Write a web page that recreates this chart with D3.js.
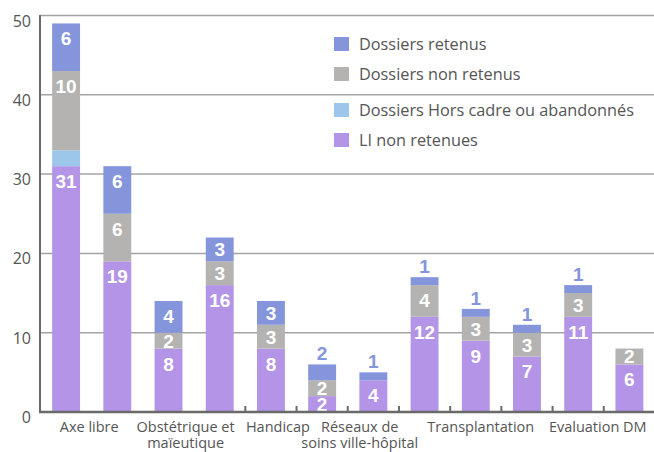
<!DOCTYPE html>
<html>
<head>
<meta charset="utf-8">
<script src="https://cdn.jsdelivr.net/npm/d3@7"></script>
<style>
  body { margin: 0; background: #fff; }
  svg { display: block; }
  .tick-y { font-family: "Open Sans", sans-serif; font-size: 16px; fill: #555; }
  .lab-x { font-family: "Open Sans", sans-serif; font-size: 14.5px; fill: #555; }
  .leg { font-family: "Open Sans", sans-serif; font-size: 16.3px; fill: #555; }
  .val { font-family: "Liberation Sans", Arial, sans-serif; font-size: 19px; font-weight: bold; }
</style>
</head>
<body>
<div id="chart"></div>
<script>
// une barre par ligne de donnees, du bas vers le haut
var bars = ["b1","b2","b3","b4","b5","b6","b7","b8","b9","b10","b11","b12"];
var liNonRetenues   = [31, 19, 8, 16, 8, 2, 4, 12, 9, 7, 12, 6];
var liTexte         = [31, 19, 8, 16, 8, 2, 4, 12, 9, 7, 11, 6]; // valeur imprimee
var horsCadre       = [2, 0, 0, 0, 0, 0, 0, 0, 0, 0, 0, 0];
var nonRetenus      = [10, 6, 2, 3, 3, 2, 0, 4, 3, 3, 3, 2];
var retenus         = [6, 6, 4, 3, 3, 2, 1, 1, 1, 1, 1, 0];
var seriesNames = ["LI non retenues", "Dossiers Hors cadre ou abandonnés", "Dossiers non retenus", "Dossiers retenus"];
var yTicks = [0, 10, 20, 30, 40, 50];
// groupes d'etiquettes de l'axe X : premiere et derniere barre
var groupes = [
  {nom: ["Axe libre"], de: 0, a: 1},
  {nom: ["Obstétrique et", "maïeutique"], de: 2, a: 3},
  {nom: ["Handicap"], de: 4, a: 4},
  {nom: ["Réseaux de", "soins ville-hôpital"], de: 5, a: 6},
  {nom: ["Transplantation"], de: 7, a: 9},
  {nom: ["Evaluation DM"], de: 10, a: 11}
];

var couleurs = ["#b494e6", "#9cc7ea", "#b4b3b1", "#8495dc"];
var decalX = [-2.5, -8.5, 7, 12, 5, -6]; // reglage a l'oeil des etiquettes

var W = 654, H = 452;
var svg = d3.select("#chart").append("svg").attr("width", W).attr("height", H);

var x = d3.scaleBand().domain(bars).range([40.5, 655]).paddingInner(0.455).paddingOuter(0.2275);
var y = d3.scaleLinear().domain([0, 50]).range([412, 15.5]);

// grille
svg.selectAll(".grid").data(yTicks.filter(function(d){ return d > 0; })).enter()
  .append("line")
  .attr("x1", 40).attr("x2", W)
  .attr("y1", function(d){ return y(d); }).attr("y2", function(d){ return y(d); })
  .attr("stroke", "#a3a3a3").attr("stroke-width", 1.5);

svg.selectAll(".tick-y").data(yTicks).enter()
  .append("text").attr("class", "tick-y")
  .attr("x", 31).attr("y", function(d){ return y(d) + 11; })
  .attr("text-anchor", "end")
  .text(function(d){ return d; });

// empilement
var table = bars.map(function(b, i){
  return {bar: b, s0: liNonRetenues[i], s1: horsCadre[i], s2: nonRetenus[i], s3: retenus[i], txt0: liTexte[i]};
});
var stack = d3.stack().keys(["s0","s1","s2","s3"])(table);

stack.forEach(function(serie, k){
  svg.selectAll(".r" + k).data(serie).enter()
    .append("rect")
    .attr("x", function(d){ return x(d.data.bar); })
    .attr("width", x.bandwidth())
    .attr("y", function(d){ return y(d[1]); })
    .attr("height", function(d){ return y(d[0]) - y(d[1]); })
    .attr("fill", couleurs[k]);
});

// valeurs
stack.forEach(function(serie, k){
  if (k == 1) return; // hors cadre sans etiquette
  serie.forEach(function(d){
    var v = d[1] - d[0];
    if (v <= 0) return;
    var txt = k == 0 ? d.data.txt0 : v;
    var cx = x(d.data.bar) + x.bandwidth() / 2;
    var top = y(d[1]), h = y(d[0]) - y(d[1]);
    var dehors = (k == 3 && v < 3);
    var cy = dehors ? top - 11 : top + Math.min(15, h / 2);
    svg.append("text").attr("class", "val")
      .attr("x", cx).attr("y", cy + 7)
      .attr("text-anchor", "middle")
      .attr("fill", dehors ? "#8495dc" : "#fff")
      .text(txt);
  });
});

// axes
svg.append("line").attr("x1", 40).attr("x2", 40).attr("y1", y(50) - 0.5).attr("y2", y(0) + 1)
  .attr("stroke", "#6a6a6a").attr("stroke-width", 2);
svg.append("line").attr("x1", 39).attr("x2", W).attr("y1", y(0)).attr("y2", y(0))
  .attr("stroke", "#6a6a6a").attr("stroke-width", 2.5);

// petits traits entre barres (a partir de la 5e)
svg.selectAll(".tk").data(d3.range(4, bars.length)).enter()
  .append("line")
  .attr("x1", function(i){ return x(bars[i]) - x.step() * x.paddingInner() / 2; })
  .attr("x2", function(i){ return x(bars[i]) - x.step() * x.paddingInner() / 2; })
  .attr("y1", y(0) - 6).attr("y2", y(0))
  .attr("stroke", "#6a6a6a").attr("stroke-width", 2);

groupes.forEach(function(g, gi){
  var cx = (x(bars[g.de]) + x(bars[g.a]) + x.bandwidth()) / 2 + decalX[gi];
  var t = svg.append("text").attr("class", "lab-x").attr("text-anchor", "middle")
    .attr("x", cx).attr("y", 432);
  g.nom.forEach(function(l, j){
    t.append("tspan").attr("x", cx).attr("dy", j == 0 ? 0 : 16).text(l);
  });
});

// legende
var legOrdre = [3, 2, 1, 0];
var legY = [44, 74, 110, 140];
legOrdre.forEach(function(k, i){
  svg.append("rect").attr("x", 334).attr("y", legY[i] - 7).attr("width", 15).attr("height", 14)
    .attr("fill", couleurs[k]);
  svg.append("text").attr("class", "leg").attr("x", 359).attr("y", legY[i] + 6)
    .text(seriesNames[k]);
});
</script>
</body>
</html>
